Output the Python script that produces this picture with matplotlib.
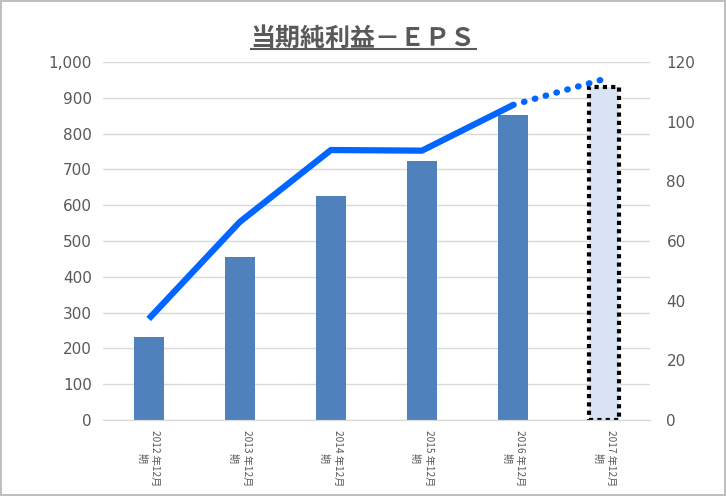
import matplotlib
matplotlib.use("Agg")
import matplotlib.pyplot as plt
from matplotlib.lines import Line2D
from matplotlib.ticker import FuncFormatter

plt.rcParams['font.family'] = ['DejaVu Sans', 'Noto Sans CJK JP']

years = ["2012", "2013", "2014", "2015", "2016", "2017"]
net_income = [233, 455, 627, 723, 853, 930]
eps = [33.9, 66.4, 90.5, 90.3, 105.6, 114.3]
labels = [f"{y} 年12月\n期" for y in years]

GREY = "#595959"
fig = plt.figure(figsize=(7.26, 4.96), dpi=100)
fig.patch.set_edgecolor("#bfbfbf")
fig.patch.set_linewidth(1.5)

ax = fig.add_axes([0.142, 0.153, 0.753, 0.722])
ax2 = ax.twinx()

x = list(range(len(years)))
ax.bar(x[:-1], net_income[:-1], width=0.33, color="#4f81bd", zorder=2)
ax.bar(x[-1], net_income[-1], width=0.33, facecolor="#dae3f3",
       edgecolor="black", linewidth=3, linestyle=(0, (1, 1)), zorder=2)

ax.set_xlim(-0.5, 5.5)
ax.set_ylim(0, 1000)
ax.set_yticks(range(0, 1001, 100))
ax.yaxis.set_major_formatter(FuncFormatter(lambda v, p: f"{int(v):,}"))
ax.grid(axis="y", color="#d9d9d9", linewidth=1, zorder=0)
ax.set_axisbelow(True)
ax.tick_params(axis="both", length=0, colors=GREY)
ax.tick_params(axis="y", labelsize=11, pad=8)
ax.tick_params(axis="x", pad=7)
ax.set_xticks(x)
ax.set_xticklabels(labels, rotation=270, fontsize=7.3, color=GREY,
                   family=['Noto Sans CJK JP'], multialignment="center",
                   linespacing=1.45, va="top", ha="center")

ax2.plot(x[:-1], eps[:-1], color="#0066ff", linewidth=4.5,
         solid_capstyle="butt", zorder=3)
ax2.plot(x[-2:], eps[-2:], color="#0066ff", linewidth=4.5,
         linestyle=(0, (0.1, 1.7)), dash_capstyle="round", zorder=3)
ax2.set_ylim(0, 120)
ax2.set_yticks(range(0, 121, 20))
ax2.tick_params(axis="y", length=0, colors=GREY, labelsize=11, pad=12)

for a in (ax, ax2):
    for s in ("top", "left", "right"):
        a.spines[s].set_visible(False)
    a.spines["bottom"].set_color("#d9d9d9")

title = fig.text(0.5, 0.922, "当期純利益－ＥＰＳ", ha="center", va="center",
                 fontsize=18, fontweight="bold", color=GREY,
                 family=['Noto Sans CJK JP'])
fig.canvas.draw()
bb = title.get_window_extent().transformed(fig.transFigure.inverted())
fig.add_artist(Line2D([bb.x0, bb.x1], [bb.y0 + 0.004, bb.y0 + 0.004],
                      transform=fig.transFigure, color=GREY, linewidth=1.5))

fig.savefig("out.png", dpi=100, edgecolor=fig.get_edgecolor())
